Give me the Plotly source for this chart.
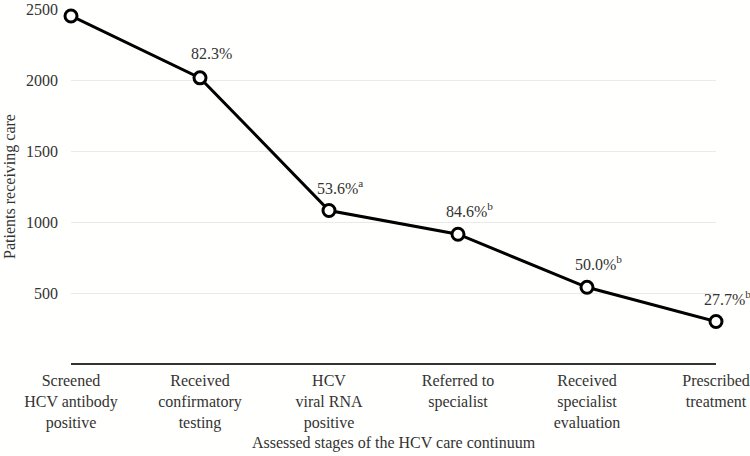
import plotly.graph_objects as go

stages = ["Screened<br>HCV antibody<br>positive", "Received<br>confirmatory<br>testing",
          "HCV<br>viral RNA<br>positive", "Referred to<br>specialist",
          "Received<br>specialist<br>evaluation", "Prescribed<br>treatment"]
patients = [2451, 2015, 1081, 914, 540, 299]
pct_labels = ["", "82.3%", "53.6%<sup>a</sup>", "84.6%<sup>b</sup>", "50.0%<sup>b</sup>", "27.7%<sup>b</sup>"]
y_ticks = [500, 1000, 1500, 2000, 2500]

FONT = "Liberation Serif"
TXT = "#333333"

x_idx = list(range(len(stages)))
fig = go.Figure()
fig.add_trace(go.Scatter(
    x=x_idx, y=patients, mode="lines+markers",
    line=dict(color="black", width=3),
    marker=dict(symbol="circle", size=12, color="white", line=dict(color="black", width=3)),
    cliponaxis=False, showlegend=False, hoverinfo="skip"))

for i, (v, t) in enumerate(zip(patients, pct_labels)):
    if t:
        fig.add_annotation(x=i, y=v, text=t, showarrow=False, xshift=11, yshift=24,
                           font=dict(family=FONT, size=16, color=TXT))

fig.update_layout(
    width=750, height=456,
    margin=dict(l=71, r=34, t=9, b=92),
    paper_bgcolor="#fffffd", plot_bgcolor="#fffffd",
    font=dict(family=FONT, size=16, color=TXT),
    xaxis=dict(tickvals=x_idx, ticktext=stages, range=[0, 5], showgrid=False,
               zeroline=False, showline=False, ticks="", ticklabelstandoff=5,
               automargin=False,
               title=dict(text="Assessed stages of the HCV care continuum", standoff=6,
                          font=dict(family=FONT, size=16, color=TXT))),
    yaxis=dict(range=[0, 2500], tickvals=y_ticks, showgrid=True, gridcolor="#eaeaea",
               gridwidth=1, zeroline=True, zerolinecolor="#333333", zerolinewidth=2,
               showline=False, ticks="", ticklabelstandoff=12, automargin=False,
               title=dict(text="Patients receiving care", standoff=6,
                          font=dict(family=FONT, size=16, color=TXT))),
)

fig.write_html("out.html", config={"displayModeBar": False},
               post_script="document.body.style.margin='0';")
